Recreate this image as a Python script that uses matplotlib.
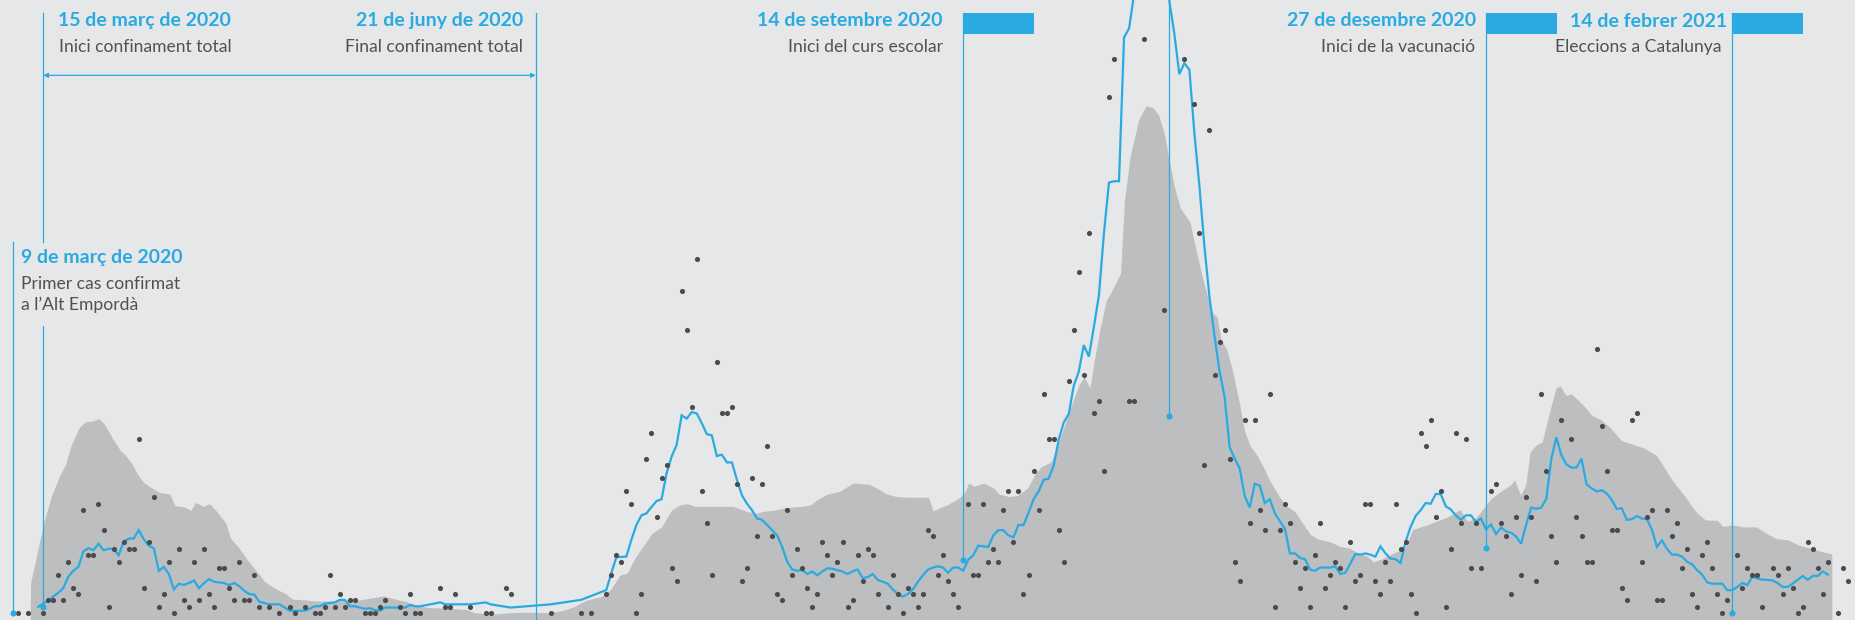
import numpy as np
import pandas as pd
import matplotlib.pyplot as plt
from matplotlib.patches import Rectangle

plt.rcParams['font.family'] = ['Lato', 'DejaVu Sans']

# dia 0 = 9 de març de 2020
inici = pd.Timestamp('2020-03-09')

# casos diaris (un valor per dia, des del 9 de març de 2020)
casos = [
    0, 1, 0, 1, 0, 0, 1, 3, 3, 7,
    3, 9, 5, 4, 17, 10, 10, 18, 14, 2,
    11, 9, 12, 11, 11, 28, 5, 12, 19, 2,
    4, 9, 1, 11, 3, 2, 9, 3, 11, 4,
    2, 8, 8, 5, 3, 9, 3, 3, 7, 2,
    0, 2, 0, 1, 0, 2, 1, 0, 2, 0,
    1, 1, 2, 7, 2, 4, 2, 3, 3, 0,
    1, 1, 1, 2, 3, 0, 0, 2, 1, 4,
    1, 1, 0, 0, 0, 5, 2, 2, 4, 0,
    0, 2, 0, 0, 1, 1, 0, 0, 5, 4,
    0, 0, 0, 0, 0, 0, 0, 1, 0, 0,
    0, 0, 0, 1, 0, 1, 0, 0, 4, 7,
    10, 9, 20, 18, 1, 4, 25, 29, 16, 22,
    24, 8, 6, 51, 45, 33, 56, 20, 15, 7,
    40, 32, 32, 33, 21, 6, 8, 22, 13, 21,
    27, 13, 4, 3, 17, 7, 11, 8, 5, 2,
    4, 12, 10, 7, 9, 12, 2, 3, 10, 6,
    11, 10, 4, 0, 2, 7, 4, 1, 5, 4,
    2, 4, 14, 13, 7, 10, 6, 4, 2, 0,
    18, 7, 7, 18, 9, 11, 9, 17, 20, 12,
    20, 4, 7, 23, 17, 35, 28, 28, 14, 9,
    37, 45, 54, 38, 60, 32, 34, 23, 81, 87,
    110, 120, 34, 34, 130, 90, 140, 120, 110, 48,
    0, 105, 100, 87, 100, 80, 60, 24, 76, 38,
    43, 45, 25, 9, 6, 31, 15, 31, 17, 14,
    35, 2, 14, 18, 15, 9, 5, 8, 2, 10,
    15, 5, 7, 9, 8, 2, 12, 6, 7, 18,
    18, 6, 4, 9, 6, 18, 11, 12, 4, 1,
    29, 27, 31, 16, 20, 2, 11, 29, 15, 28,
    8, 15, 8, 0, 20, 21, 15, 13, 4, 16,
    7, 19, 16, 6, 35, 23, 13, 9, 31, 0,
    28, 16, 13, 9, 9, 42, 30, 23, 14, 14,
    5, 3, 31, 32, 9, 16, 17, 3, 3, 17,
    13, 15, 8, 11, 4, 2, 10, 12, 8, 4,
    1, 3, 0, 10, 5, 8, 7, 7, 2, 0,
    8, 7, 4, 8, 5, 1, 2, 12, 11, 8,
    4, 9, 0, 1, 8, 6,
]

# mitjana mobil (linia blava)
mitjana_dia = [
    5, 7, 9, 10, 11, 12, 13, 14, 15, 16, 17, 18, 19, 20, 21, 22, 23, 24, 25, 26,
    27, 28, 29, 30, 31, 32, 33, 34, 35, 36, 37, 38, 39, 40, 41, 42, 43, 44, 45, 46,
    47, 48, 49, 50, 51, 53, 54, 55, 56, 58, 59, 60, 61, 62, 63, 64, 65, 66, 67, 68,
    69, 70, 71, 72, 73, 74, 76, 78, 79, 80, 81, 85, 86, 87, 91, 94, 95, 99, 107, 113,
    115, 118, 119, 120, 122, 123, 124, 125, 126, 127, 128, 129, 130, 131, 132, 133, 134, 135, 136, 137,
    138, 139, 140, 141, 142, 143, 144, 145, 146, 147, 148, 149, 150, 151, 152, 153, 154, 155, 156, 157,
    158, 159, 160, 161, 162, 163, 164, 165, 166, 167, 168, 169, 170, 171, 172, 173, 174, 175, 176, 177,
    178, 179, 180, 181, 182, 183, 184, 185, 186, 187, 188, 189, 190, 191, 192, 193, 194, 195, 196, 197,
    198, 199, 200, 201, 202, 203, 204, 205, 206, 207, 208, 209, 210, 211, 212, 213, 214, 215, 216, 217,
    218, 219, 220, 221, 222, 223, 224, 225, 226, 227, 228, 229, 230, 231, 232, 233, 234, 235, 236, 237,
    238, 239, 240, 241, 242, 243, 244, 245, 246, 247, 248, 249, 250, 251, 252, 253, 254, 255, 256, 257,
    258, 259, 260, 261, 262, 263, 264, 265, 266, 267, 268, 269, 270, 271, 272, 273, 274, 275, 276, 277,
    278, 279, 280, 281, 282, 283, 284, 285, 286, 287, 288, 289, 290, 291, 292, 293, 294, 295, 296, 297,
    298, 299, 300, 301, 302, 303, 304, 305, 306, 307, 308, 309, 310, 311, 312, 313, 314, 315, 316, 317,
    318, 319, 320, 321, 322, 323, 324, 325, 326, 327, 328, 329, 330, 331, 332, 333, 334, 335, 336, 337,
    338, 339, 340, 341, 342, 343, 344, 345, 346, 347, 348, 349, 350, 351, 352, 353, 354, 355, 356, 357,
    358, 359, 360, 361,
]
mitjana_val = [
    2, 3, 4.2, 4.9, 6.7, 7.6, 8.2, 10.6, 11.1, 10.8, 11.8, 10.8, 11, 11, 10, 12.1, 12.6, 12.6, 13.9, 12.5,
    11.5, 11.1, 7.6, 8.2, 7.1, 4.7, 5.6, 5.4, 5.7, 6.1, 4.9, 5.7, 6.3, 5.9, 5.8, 5.7, 5.4, 5.7, 5.2, 4.5,
    4, 3.9, 2.8, 2.6, 2.4, 2.4, 1.9, 1.4, 1.4, 1.4, 1.7, 2.1, 2.1, 2.5, 2.6, 2.7, 3.1, 3.1, 2.1, 2.1,
    1.9, 1.7, 1.8, 1.5, 1.4, 1.9, 1.9, 1.9, 2.3, 2.1, 2.1, 2.7, 2.4, 2.4, 2.4, 2.7, 2.4, 1.9, 2.4, 3.1,
    3.7, 4.6, 7.2, 9.7, 9.8, 12.4, 14.7, 16.2, 16.5, 17.5, 18.4, 18.7, 22.7, 25.3, 27.1, 31.7, 31.2, 32.2, 32, 30.5,
    28.8, 28.6, 25.4, 25.6, 24.4, 24.4, 21.7, 19.3, 18, 17, 15.7, 15.5, 14.7, 13.9, 13.1, 11.3, 9, 7.8, 7.6, 7.7,
    7.1, 7.5, 6.9, 7.5, 8, 7.9, 7.7, 7.5, 7.1, 7.5, 7.8, 6.5, 6.6, 7.1, 6.2, 5.9, 5.6, 4.7, 4, 3.6,
    4, 4.7, 5.9, 6.9, 7.8, 8.1, 8.3, 8.1, 7.3, 8.1, 8.1, 7.6, 9.3, 10, 11.5, 11.4, 11.3, 13.1, 13.9, 13.9,
    13.1, 12.8, 14.7, 14.7, 16.6, 18.7, 19.9, 21.7, 21.9, 23.9, 27.9, 30.6, 31.9, 36.3, 38.5, 42.6, 40.8, 45.4, 50.3, 59.9,
    67.8, 68, 68, 90.3, 91.7, 97, 104, 110, 114, 112, 108, 102, 96, 90.9, 84.6, 86.3, 85.3, 75.4, 67.2, 57.8,
    50, 44, 38.5, 34.6, 26.8, 25, 23.5, 19.2, 17.4, 21.1, 20.8, 18.1, 18.7, 16.5, 15.3, 14.1, 10.3, 10.3, 9.6, 9.4,
    7.8, 7.6, 8.1, 8.1, 8.1, 8.3, 7.1, 7.3, 8.7, 10.2, 10.1, 10.3, 10.1, 9.8, 11.4, 10.3, 9.5, 9.4, 8.8, 12.1,
    14.4, 16.1, 17, 18.1, 18, 19.5, 19.5, 17.6, 17.1, 16.2, 15.5, 16.2, 16.2, 15.2, 15.7, 14, 14.8, 13.3, 14.3, 13.7,
    13.5, 12.9, 11.8, 14.8, 17.4, 17.2, 17.4, 18.8, 25, 28.3, 25.5, 24.1, 23.6, 23.6, 25, 21, 20.4, 19.9, 20.1, 19.6,
    18.6, 17.2, 17.3, 15.5, 15.6, 16.1, 15.7, 15.6, 14, 11.3, 12.3, 11, 10.1, 10.1, 9.8, 9, 8.6, 7.7, 7, 5.8,
    5.6, 5.6, 5.6, 4.6, 4.6, 5.1, 5.7, 5.4, 6.7, 6.4, 6.2, 6.2, 6.1, 5.7, 5.1, 5.1, 5.6, 6.2, 6.8, 6.2,
    6.8, 6.8, 7.5, 7.0,
]

# area grisa
area_dia = [
    3.4, 3.5, 4.5, 6.1, 7.6, 9.2, 10.4, 11.6, 13.1, 14.3, 15.7, 17.1, 18.3, 19.8, 21.4, 22.4, 23.8, 24.9, 26.1, 27.7,
    29.3, 31.2, 32.2, 34, 35.4, 36.3, 37.9, 39.1, 40.3, 42.3, 43.3, 44.8, 46.6, 48.5, 50.1, 52.5, 54.1, 55.6, 57.9, 60.3,
    62.7, 65.1, 66.6, 68.2, 71.4, 73.7, 76.1, 78.4, 80, 82.4, 86.3, 90.2, 91.8, 95.7, 98.9, 102, 106, 109.1, 111.5, 113.9,
    117, 118.9, 120.7, 122.2, 123.9, 127.1, 129, 131, 132.6, 134.1, 135.7, 143.2, 146, 147.9, 149.1, 151.4, 153.8, 157, 158.6, 160.1,
    162, 164.4, 165.6, 167.2, 170.3, 171.9, 173.8, 175.8, 177.8, 182.1, 183, 186, 188, 189.2, 190.1, 191.2, 193.1, 195.1, 196.1, 198.2,
    199.8, 201.8, 203.4, 204.5, 206.5, 207.7, 209.3, 210.8, 212, 213.1, 214.2, 215.1, 216.3, 217.5, 218.3, 220.3, 221.1, 222.2, 223.9, 225.4,
    226.8, 227.9, 229, 230.1, 231, 232.2, 234.1, 235.2, 236.4, 237.6, 238.7, 239.5, 240.3, 241.5, 242.7, 244.1, 245, 246, 247.6, 248.7,
    249.9, 251.5, 253, 255, 256.5, 258.1, 259.7, 262, 263.9, 265.9, 267.5, 269.5, 270.6, 272.2, 274.5, 276.9, 278.4, 281.2, 283.9, 285.5,
    287.8, 289.3, 290.9, 294, 295.9, 297.9, 298.7, 299.9, 300.9, 301.8, 303, 304.2, 305.4, 306.9, 307.7, 308.9, 310, 311.3, 312.8, 314,
    315.9, 317.8, 319.9, 322.2, 324.5, 326.9, 328.4, 330, 332.4, 334.7, 336.6, 339, 340.1, 342.1, 344.1, 346.8, 348.8, 350.7, 353.1, 355.1,
    357.4, 359.7, 361.8, 361.8,
]
area_val = [
    0, 5.7, 9.3, 15, 19.1, 22.2, 24, 27.1, 29.7, 30.7, 30.8, 31.2, 30.2, 28.1, 26.2, 25.5, 24, 22.4, 21.2, 20.4,
    19.7, 19.5, 17.7, 17.5, 17, 18.2, 17.6, 18, 17, 15, 12.6, 11.3, 9.3, 7.5, 5.9, 4.7, 4.1, 3.2, 3.1, 2.9,
    2.9, 3, 3.1, 3, 3.4, 3.7, 3.2, 2.8, 2.3, 1.9, 1.8, 1.6, 1.1, 0.9, 1.1, 1.2, 1.1, 1.4, 2, 3,
    3.6, 4.7, 6.9, 7.3, 9.8, 13.4, 14.4, 17, 17.8, 18, 17.6, 17.6, 16.8, 16.5, 16.8, 17, 17.4, 17.6, 17.8, 18.7,
    19.5, 19.9, 20.5, 21.2, 21, 20.4, 19.5, 19.1, 19, 19, 16.9, 17.9, 18.8, 19.6, 21.2, 20.7, 21.2, 20.4, 19.5, 19.1,
    19.3, 20.4, 22.7, 23.7, 24.5, 26.8, 30.5, 33.8, 36.4, 37.7, 35.9, 40.3, 45.4, 49.6, 50.6, 53.7, 65.1, 71.8, 77.5, 79.7,
    79.4, 78.2, 75.4, 70.8, 67.2, 63.8, 61.7, 57.8, 53.7, 50.1, 47.5, 47, 43.4, 41.8, 38.2, 33, 29.2, 27.1, 25.3, 23.7,
    21.7, 19.6, 17.8, 16.8, 15, 13.2, 12.5, 12.1, 11.4, 11.1, 10.4, 9.8, 9, 9.4, 10.3, 11.1, 14, 14.7, 15.5, 16,
    17.1, 15.3, 15.7, 18.8, 19.9, 20.9, 21.7, 19.3, 20.9, 26.1, 27.1, 27.6, 31.5, 35.9, 36.3, 34.8, 35, 34.1, 32.9, 31.7,
    31, 29.7, 27.8, 27.2, 26.6, 25.5, 23.7, 21.7, 19.3, 16.8, 15.5, 15.4, 14.5, 14.7, 14.4, 14.4, 13.4, 12.6, 12.4, 11.6,
    11.1, 10.6, 10.2, 0,
]

# esdeveniments
esd_data = ['2020-03-09', '2020-03-15', '2020-06-21', '2020-09-14', '2020-10-25', '2020-12-27', '2021-02-14']
esd_titol = ['9 de març de 2020', '15 de març de 2020', '21 de juny de 2020', '14 de setembre 2020', '',
             '27 de desembre 2020', '14 de febrer 2021']
esd_text = ['Primer cas confirmat\na l’Alt Empordà', 'Inici confinament total', 'Final confinament total',
            'Inici del curs escolar', '', 'Inici de la vacunació', 'Eleccions a Catalunya']
esd_punt = [1, 2, None, 9.2, 31.6, 11.1, 1]

BLAU = '#29abe2'
FONS = '#e6e7e8'
GRIS = '#bdbec0'
PUNT = '#4b4b4d'
TEXT = '#505153'

fig = plt.figure(figsize=(18.56, 6.2), dpi=100, facecolor=FONS)
ax = fig.add_axes([0, 0, 1, 1])
ax.set_facecolor(FONS)
ax.set_xlim(-2.59, 366.6)
ax.set_ylim(-0.03, 96.1)
ax.axis('off')

dies = np.arange(len(casos))
casos = np.array(casos)

ax.fill_between(area_dia, area_val, 0, color=GRIS, lw=0, zorder=1)
ax.plot(mitjana_dia, mitjana_val, color=BLAU, lw=1.6, zorder=3, solid_joinstyle='miter')
mask = casos > 0
ax.plot(dies[mask], casos[mask], 'o', color=PUNT, ms=3.7, mew=0, zorder=4)

dia_esd = [(pd.Timestamp(d) - inici).days for d in esd_data]

def yfrac(px):
    return 1 - px / 620.0

def vpx(px):
    return (619.8 - px) / 6.45

# linies verticals
trams = {
    0: [(None, vpx(242))],
    1: [(None, vpx(326)), (vpx(242), vpx(13))],
    2: [(0, vpx(13))],
    3: [(None, vpx(13))],
    4: [(None, 96.1)],
    5: [(None, vpx(13))],
    6: [(None, vpx(13))],
}
for i, d in enumerate(dia_esd):
    for y0, y1 in trams[i]:
        if y0 is None:
            y0 = esd_punt[i]
        ax.plot([d, d], [y0, y1], color=BLAU, lw=0.9, zorder=5)
    if esd_punt[i] is not None:
        ax.plot(d, esd_punt[i], 'o', color=BLAU, ms=4.4, mew=0, zorder=6)

# rectangles blaus
for i in [3, 5, 6]:
    ax.add_patch(Rectangle((dia_esd[i], vpx(34)), 14.1, vpx(13) - vpx(34),
                           color=BLAU, lw=0, zorder=5))

# fletxa del confinament
ax.annotate('', xy=(dia_esd[2], vpx(75.3)), xytext=(dia_esd[1], vpx(75.3)),
            arrowprops=dict(arrowstyle='<|-|>', color=BLAU, lw=0.9,
                            mutation_scale=7, shrinkA=0, shrinkB=0), zorder=5)

# etiquetes: (alineacio, desplaçament titol, desplaçament text, y titol, y text)
disposicio = {
    0: ('left', 7.6, 8.4, 263.3, 288.7),
    1: ('left', 15.3, 15.8, 26, 51.7),
    2: ('right', -13.1, -13.1, 26, 51.7),
    3: ('right', -20.4, -20.4, 26, 51.7),
    5: ('right', -9.4, -11, 26, 52.3),
    6: ('right', -5.2, -10.5, 27.3, 52.3),
}
for i, (ha, dx1, dx2, yt, yd) in disposicio.items():
    d = dia_esd[i]
    ax.annotate(esd_titol[i], xy=(d, yfrac(yt)), xycoords=('data', 'axes fraction'),
                xytext=(dx1, 0), textcoords='offset pixels', ha=ha, va='baseline',
                color=BLAU, fontsize=14, fontweight='bold')
    for k, linia in enumerate(esd_text[i].split('\n')):
        ax.annotate(linia, xy=(d, yfrac(yd + 21.3 * k)), xycoords=('data', 'axes fraction'),
                    xytext=(dx2, 0), textcoords='offset pixels', ha=ha, va='baseline',
                    color=TEXT, fontsize=12.6)

fig.savefig('out.png', dpi=100, facecolor=FONS)
